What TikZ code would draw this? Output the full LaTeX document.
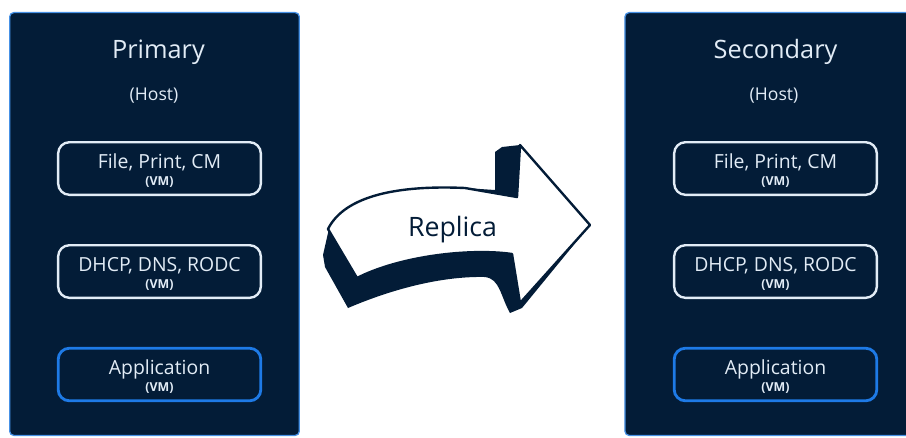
\documentclass[tikz,border=0pt]{standalone}
\usepackage{fontspec}
\setmainfont{Open Sans}
\definecolor{navy}{RGB}{3,28,55}
\definecolor{panelblue}{RGB}{70,145,230}
\definecolor{boxwhite}{RGB}{226,236,246}
\definecolor{appblue}{RGB}{30,122,230}

\begin{document}
\begin{tikzpicture}[x=0.025cm,y=-0.025cm,
  hostpanel/.style={draw=panelblue, line width=0.9pt, fill=navy, rounded corners=3pt,
    minimum width=7.24cm, minimum height=10.57cm, inner sep=0pt},
  vmbox/.style={draw=boxwhite, line width=1.7pt, rounded corners=8pt,
    minimum width=5.065cm, minimum height=1.315cm, inner sep=0pt},
  appbox/.style={vmbox, draw=appblue, line width=2pt},
  hosttitle/.style={text=boxwhite, anchor=base, inner sep=0pt, font=\fontsize{18}{20}\selectfont},
  hostlbl/.style={text=boxwhite, anchor=base, inner sep=0pt, font=\fontsize{12.5}{14}\selectfont},
  vmlbl/.style={text=boxwhite, anchor=base, inner sep=0pt, font=\fontsize{13.8}{16}\selectfont},
  vmtag/.style={text=boxwhite, anchor=base, inner sep=0pt, font=\fontsize{8.8}{10}\selectfont\bfseries}]
  \useasboundingbox (0,0) rectangle (906,437);
  % Host 1: Primary
  \begin{scope}
    \node[hostpanel] (prim) at (154.5,224) {};
    \node[hosttitle] (prim-t) at (158.5,58) {Primary};
    \node[hostlbl] (prim-h) at (154,100) {(Host)};
    \node[vmbox] (prim-file) at (159.5,168.5) {};
    \node[vmlbl] at (159.5,168) {File, Print, CM};
    \node[vmtag] at (159.5,185) {(VM)};
    \node[vmbox] (prim-dns) at (159.5,271.5) {};
    \node[vmlbl] at (159.5,271.5) {DHCP, DNS, RODC};
    \node[vmtag] at (159.5,288) {(VM)};
    \node[appbox] (prim-app) at (159.5,374.5) {};
    \node[vmlbl] at (159.5,374) {Application};
    \node[vmtag] at (159.5,391) {(VM)};
  \end{scope}
  % Host 2: Secondary (runs off the right edge)
  \begin{scope}[shift={(616,0)}]
    \node[hostpanel, minimum width=8.4cm] (sec) at (177,224) {};
    \node[hosttitle] (sec-t) at (159.5,58) {Secondary};
    \node[hostlbl] (sec-h) at (158,100) {(Host)};
    \node[vmbox] (sec-file) at (159.5,168.5) {};
    \node[vmlbl] at (159.5,168) {File, Print, CM};
    \node[vmtag] at (159.5,185) {(VM)};
    \node[vmbox] (sec-dns) at (159.5,271.5) {};
    \node[vmlbl] at (159.5,271.5) {DHCP, DNS, RODC};
    \node[vmtag] at (159.5,288) {(VM)};
    \node[appbox] (sec-app) at (159.5,374.5) {};
    \node[vmlbl] at (159.5,374) {Application};
    \node[vmtag] at (159.5,391) {(VM)};
  \end{scope}
  % Replica arrow: dark body, then white face
  \fill[navy] (328,229) .. controls (345,195) and (400,185) .. (465,188) -- (495,190)
    -- (495,152) -- (502,147) -- (520,145) -- (590,225) -- (522,308) -- (510,313)
    .. controls (500,295) and (500,279) .. (485,277)
    .. controls (440,276) and (390,290) .. (348,308)
    -- (325,267) -- (323,255) -- (328,233) -- cycle;
  \filldraw[fill=white, draw=navy, line width=1.7pt, line join=round]
    (328,229) .. controls (345,195) and (400,185) .. (465,188) -- (517,197)
    -- (520,145) -- (590,225) -- (520,303) -- (512,254)
    .. controls (470,248) and (400,256) .. (357,278) -- cycle;
  \node[text=navy, anchor=base, inner sep=0pt, font=\fontsize{19}{22}\selectfont]
    (replica) at (452.5,236.5) {Replica};
\end{tikzpicture}
\end{document}
